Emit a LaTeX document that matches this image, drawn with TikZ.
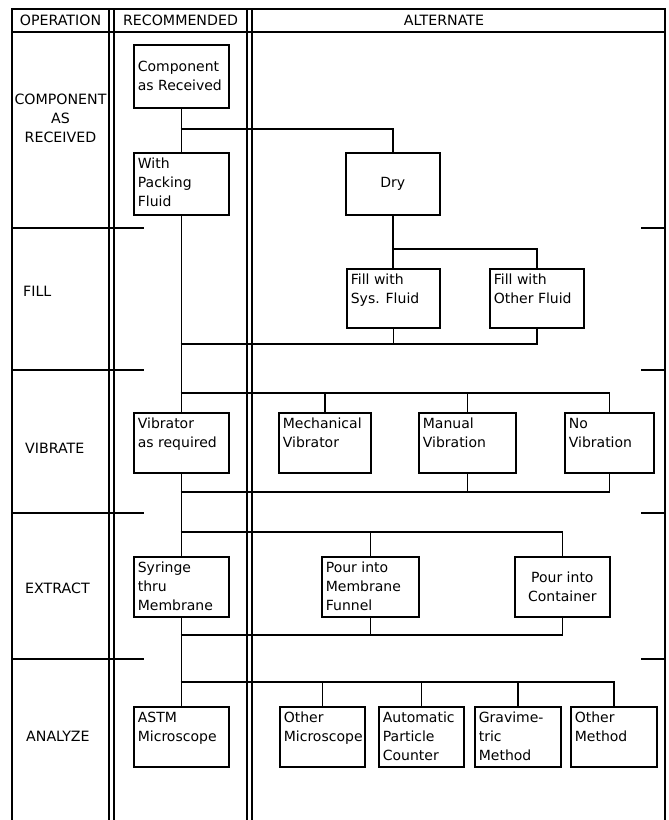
\documentclass[tikz,border=0pt]{standalone}
\usepackage{fontspec}
\setmainfont{DejaVu Sans}
\usetikzlibrary{positioning,calc}

% text block inside a box: [vertical pos]{width}{height}{text}
\newcommand{\inbox}[4][t]{\parbox[c][#3][#1]{#2}{\raggedright #4}}

\tikzset{
  rule/.style={line width=1.7pt},
  link/.style={line width=1.7pt},
  opbox/.style={draw, line width=1.7pt, anchor=north west, inner xsep=4pt, inner ysep=5pt,
    font=\fontsize{14}{19}\selectfont},
  oplabel/.style={inner sep=0pt, font=\fontsize{14.2}{19}\selectfont},
}

\begin{document}
\begin{tikzpicture}[x=1pt, y=-1pt]
    \useasboundingbox (0,0) rectangle (669,820);
    % Frame and columns
    \draw [rule] (12,820) -- (12,9) -- (665,9) -- (665,820);
    \draw [rule] (12,32) -- (665,32);
    \foreach \x in {109,114,247,252} \draw [rule] (\x,9) -- (\x,820);
    % Row marks
    \foreach \y in {228,370,513,659} {
        \draw [rule] (12,\y) -- (144,\y);
        \draw [rule] (641,\y) -- (665,\y);
    }
    % Headings
    \node [oplabel] (hop) at (60.5,20.5) {OPERATION};
    \node [oplabel] (hrec) at (180.5,20.5) {RECOMMENDED};
    \node [oplabel] (halt) at (444,20.5) {ALTERNATE};
    % Operations
    \node [oplabel, align=center] (rrecv) at (60.5,118) {COMPONENT\\AS\\RECEIVED};
    \node [oplabel, anchor=west] (rfill) at (23,291) {FILL};
    \node [oplabel, anchor=west] (rvib) at (25,448) {VIBRATE};
    \node [oplabel, anchor=west] (rext) at (25,588) {EXTRACT};
    \node [oplabel, anchor=west] (rana) at (26,736) {ANALYZE};

    % Component as received
    \node [opbox] (recv) at (133,44) {\inbox[c]{87pt}{53pt}{Component\\as Received}};
    \node [opbox] (packing) at (133,152) {\inbox{87pt}{52pt}{With\\Packing\\Fluid}};
    \node [opbox] (dry) at (345,152) {\inbox[c]{86pt}{52pt}{\centering Dry}};
    % Fill
    \node [opbox] (sysfl) at (346,268) {\inbox{85pt}{49pt}{Fill with\\Sys. Fluid}};
    \node [opbox] (othfl) at (489,268) {\inbox{86pt}{49pt}{Fill with\\Other Fluid}};
    % Vibrate
    \node [opbox] (vibreq) at (133,412) {\inbox{87pt}{50pt}{Vibrator\\as required}};
    \node [opbox] (mechvib) at (278,412) {\inbox{84pt}{50pt}{Mechanical\\Vibrator}};
    \node [opbox] (manvib) at (418,412) {\inbox{89pt}{50pt}{Manual\\Vibration}};
    \node [opbox] (novib) at (564,412) {\inbox{81pt}{50pt}{No\\Vibration}};
    % Extract
    \node [opbox] (syringe) at (133,556) {\inbox{87pt}{50pt}{Syringe\\thru\\Membrane}};
    \node [opbox] (membr) at (321,556) {\inbox{89pt}{50pt}{Pour into\\Membrane\\Funnel}};
    \node [opbox] (cont) at (514,556) {\inbox[c]{87pt}{50pt}{\centering Pour into\\Container}};
    % Analyze
    \node [opbox] (astm) at (133,706) {\inbox{87pt}{50pt}{ASTM\\Microscope}};
    \node [opbox] (othmic) at (279,706) {\inbox{77pt}{50pt}{Other\\Microscope}};
    \node [opbox] (autoc) at (378,706) {\inbox{77pt}{50pt}{Automatic\\Particle\\Counter}};
    \node [opbox] (grav) at (474,706) {\inbox{78pt}{50pt}{Gravime-\\tric\\Method}};
    \node [opbox] (othmeth) at (570,706) {\inbox{78pt}{50pt}{Other\\Method}};

    % Branch and merge points on the recommended line
    \coordinate (b1) at (180.5,129);
    \coordinate (b2) at (392,249);
    \coordinate (m1) at (180.5,344);
    \coordinate (b3) at (180.5,393);
    \coordinate (m2) at (180.5,492);
    \coordinate (b4) at (180.5,532);
    \coordinate (m3) at (180.5,635);
    \coordinate (b5) at (180.5,682);

    % Recommended path
    \draw [link] (recv.south) -- (packing.north);
    \draw [link] (packing.south) -- (vibreq.north);
    \draw [link] (vibreq.south) -- (syringe.north);
    \draw [link] (syringe.south) -- (astm.north);
    % Dry and fill
    \draw [link] (b1) -| (dry.north);
    \draw [link] (dry.south) -- (dry.south |- sysfl.north);
    \draw [link] (b2) -| (othfl.north);
    \draw [link] (sysfl.south) -- (sysfl.south |- m1);
    \draw [link] (m1) -| (othfl.south);
    % Vibrate
    \draw [link] (b3) -| (novib.north);
    \foreach \n in {mechvib,manvib} \draw [link] (\n.north) -- (\n.north |- b3);
    \draw [link] (m2) -| (novib.south);
    \draw [link] (manvib.south) -- (manvib.south |- m2);
    % Extract
    \draw [link] (b4) -| (cont.north);
    \draw [link] (membr.north) -- (membr.north |- b4);
    \draw [link] (m3) -| (cont.south);
    \draw [link] (membr.south) -- (membr.south |- m3);
    % Analyze
    \draw [link] (b5) -| (othmeth.north);
    \foreach \n in {othmic,autoc,grav} \draw [link] (\n.north) -- (\n.north |- b5);
\end{tikzpicture}
\end{document}
